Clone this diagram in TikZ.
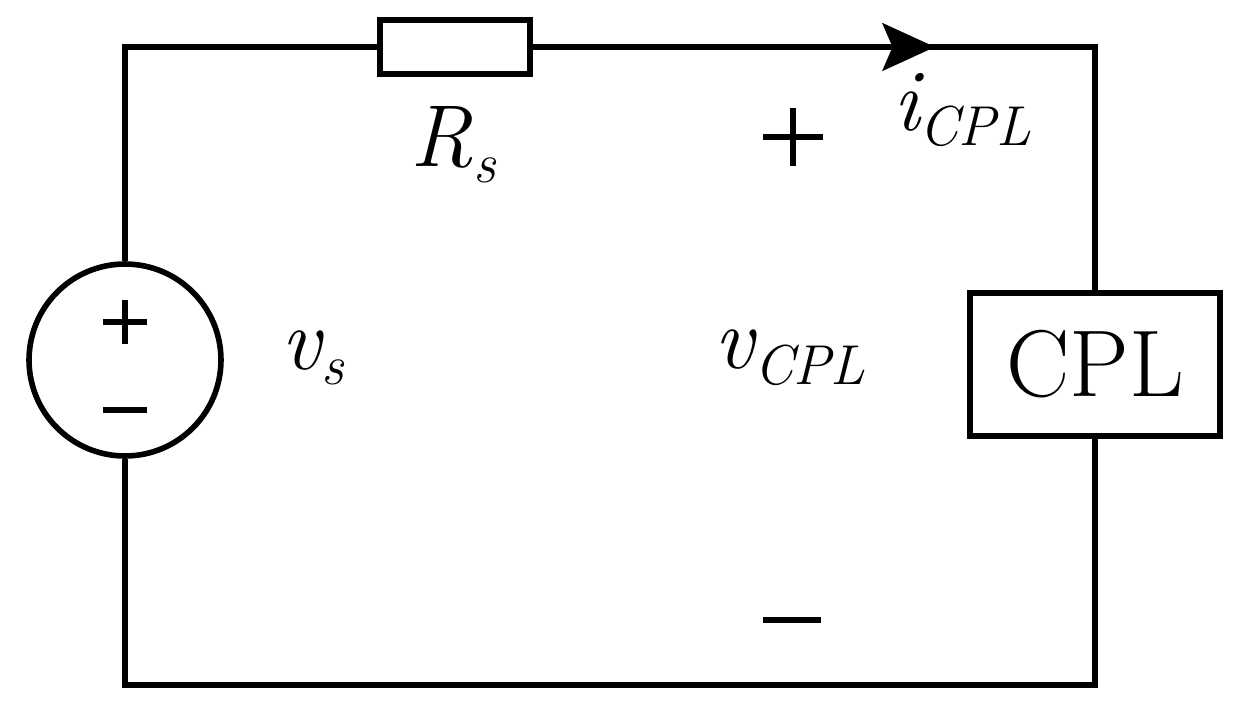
\documentclass[tikz,border=0pt]{standalone}
\usetikzlibrary{arrows.meta}
\newcommand{\mysub}[1]{\raisebox{-0.18em}{\fontsize{32}{34}\selectfont\textit{#1}}}
\begin{document}
\begin{tikzpicture}[x=0.02cm,y=-0.02cm,line width=3.2pt,
  lbl/.style={inner sep=0pt,font=\fontsize{50}{54}\selectfont\itshape}]
\useasboundingbox (0,0) rectangle (1251,710);
\node[draw,minimum width=3cm,minimum height=1.08cm,inner sep=0pt,fill=white] (R) at (455,47) {};
\node[draw,circle,minimum size=3.84cm,inner sep=0pt] (S) at (125,360) {};
\node[draw,minimum width=5cm,minimum height=2.86cm,inner sep=0pt,font=\fontsize{54}{58}\selectfont] (L) at (1095,364.5) {CPL};
\coordinate (tl) at (125,47); \coordinate (tr) at (1095,47);
\coordinate (bl) at (125,685); \coordinate (br) at (1095,685);
\coordinate (ar) at (935,47);
\draw (S.north) -- (tl) -- (R.west);
\draw (R.east) -- (tr) -- (L.north);
\draw (L.south) -- (br) -- (bl) -- (S.south);
\draw[-{Stealth[length=1.05cm,width=0.95cm,inset=0.2cm]}] (R.east) -- (ar);
\draw (103,322) -- (147,322) (125,300) -- (125,344);
\draw (103,410) -- (147,410);
\node[lbl] (rs) at (453,145) {R\mysub{s}};
\node[lbl] (ic) at (962,110) {i\mysub{CPL}};
\node[lbl] (vs) at (313,358) {v\mysub{s}};
\node[lbl] (vc) at (790,358) {v\mysub{CPL}};
\draw (763,137) -- (823,137) (793,108) -- (793,166);
\draw (763,620) -- (821,620);
\end{tikzpicture}
\end{document}
